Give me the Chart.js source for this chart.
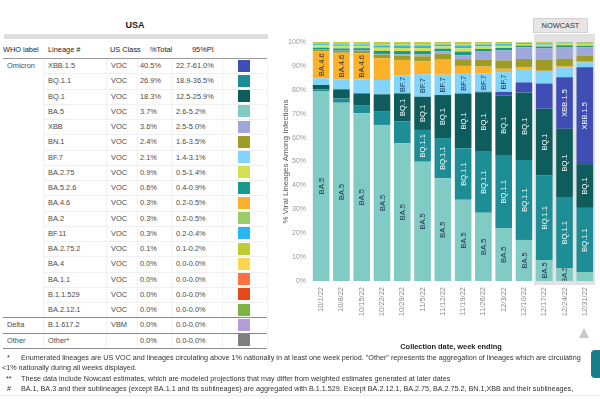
<!DOCTYPE html>
<html>
<head>
<meta charset="utf-8">
<script src="https://cdn.jsdelivr.net/npm/chart.js@4.4.1/dist/chart.umd.min.js"></script>
<style>
  body { margin: 0; width: 600px; height: 399px; overflow: hidden; background: #fff;
         font-family: "Liberation Sans", Arial, sans-serif; position: relative; }
  .t { position: absolute; white-space: nowrap; }
  .hline { position: absolute; height: 0; }
  #title { left: 0; width: 270px; top: 20px; text-align: center; font-weight: bold; font-size: 9px; color: #222; }
  #titlebar { position: absolute; left: 4px; top: 34px; width: 264px; height: 5px; background: #dedede; }
  .hd { font-size: 7.4px; color: #222; top: 45px; }
  .cell { font-size: 7.4px; color: #4a4a4a; height: 15.25px; line-height: 15.25px; }
  .sw { position: absolute; width: 12px; height: 12px; }
  #chartBox { position: absolute; left: 278px; top: 30px; width: 322px; height: 306px; }
  #nowcast { position: absolute; left: 533px; top: 18px; width: 55px; height: 15px; background: #e6e6e6;
             border: 1px solid #d0d0d0; box-sizing: border-box; font-size: 7.4px; color: #333;
             text-align: center; line-height: 13px; }
  #tri { position: absolute; left: 579px; top: 328px; width: 0; height: 0;
         border-left: 5.5px solid transparent; border-right: 5.5px solid transparent; border-bottom: 10px solid #c9c9c9; }
  #xtitle { left: 360px; width: 182px; top: 342px; text-align: center; font-weight: bold; font-size: 7.4px; color: #222; }
  .fn { font-size: 7.2px; color: #333; }
  #tab { position: absolute; left: 591px; top: 350px; width: 12px; height: 28px; background: #167f89; border-radius: 4px; }
</style>
</head>
<body>
<div id="title" class="t">USA</div>
<div id="titlebar"></div>
<div id="table"></div>
<div id="chartBox"><canvas id="variants" width="322" height="306"></canvas></div>
<div id="nowcast">NOWCAST</div>
<div id="tri"></div>
<div id="xtitle" class="t">Collection date, week ending</div>
<div class="t fn" style="left:7px;top:352.5px">*</div>
<div class="t fn" style="left:21px;top:352.5px">Enumerated lineages are US VOC and lineages circulating above 1% nationally in at least one week period. "Other" represents the aggregation of lineages which are circulating</div>
<div class="t fn" style="left:2px;top:363px">&lt;1% nationally during all weeks displayed.</div>
<div class="t fn" style="left:6px;top:373.5px">**</div>
<div class="t fn" style="left:21px;top:373.5px">These data include Nowcast estimates, which are modeled projections that may differ from weighted estimates generated at later dates</div>
<div class="t fn" style="left:7px;top:384px">#</div>
<div class="t fn" style="left:21px;top:384px">BA.1, BA.3 and their sublineages (except BA.1.1 and its sublineages) are aggregated with B.1.1.529. Except BA.2.12.1, BA.2.75, BA.2.75.2, BN.1,XBB and their sublineages,</div>
<div class="hline" style="left:0;top:395px;width:600px;border-top:1px solid #ececec"></div>
<div id="tab"></div>
<script>
// table (nowcast week ending 12/31/22)
const lineages = ['XBB.1.5', 'BQ.1.1', 'BQ.1', 'BA.5', 'XBB', 'BN.1', 'BF.7', 'BA.2.75', 'BA.5.2.6', 'BA.4.6',
                  'BA.2', 'BF.11', 'BA.2.75.2', 'BA.4', 'BA.1.1', 'B.1.1.529', 'BA.2.12.1', 'B.1.617.2', 'Other*'];
const whoLabels = ['Omicron', '', '', '', '', '', '', '', '', '', '', '', '', '', '', '', '', 'Delta', 'Other'];
const usClass = ['VOC', 'VOC', 'VOC', 'VOC', 'VOC', 'VOC', 'VOC', 'VOC', 'VOC', 'VOC',
                 'VOC', 'VOC', 'VOC', 'VOC', 'VOC', 'VOC', 'VOC', 'VBM', ''];
const pctTotal = ['40.5%', '26.9%', '18.3%', '3.7%', '3.6%', '2.4%', '2.1%', '0.9%', '0.6%', '0.3%',
                  '0.3%', '0.3%', '0.1%', '0.0%', '0.0%', '0.0%', '0.0%', '0.0%', '0.0%'];
const pi95 = ['22.7-61.0%', '18.9-36.5%', '12.5-25.9%', '2.6-5.2%', '2.5-5.0%', '1.6-3.5%', '1.4-3.1%', '0.5-1.4%',
              '0.4-0.9%', '0.2-0.5%', '0.2-0.5%', '0.2-0.4%', '0.1-0.2%', '0.0-0.0%', '0.0-0.0%', '0.0-0.0%',
              '0.0-0.0%', '0.0-0.0%', '0.0-0.0%'];

// chart
const weeks = ['10/1/22', '10/8/22', '10/15/22', '10/22/22', '10/29/22', '11/5/22', '11/12/22',
               '11/19/22', '11/26/22', '12/3/22', '12/10/22', '12/17/22', '12/24/22', '12/31/22'];
const nowcastFrom = '12/17/22';
const ba5 =     [79.5, 74.6, 70.2, 65.3, 57.6, 49.9, 43.0, 34.0, 28.6, 22.0, 17.2, 8.8, 5.3, 3.7];
const bq11 =    [0.7, 1.8, 3.4, 5.8, 9.1, 13.3, 16.8, 21.5, 25.5, 30.7, 33.4, 35.4, 29.8, 26.9];
const bq1 =     [1.8, 3.8, 4.9, 7.0, 11.8, 13.9, 18.0, 23.0, 24.9, 24.9, 28.3, 27.9, 28.6, 18.3];
const xbb15 =   [0, 0, 0, 0, 0, 0, 0, 0, 0.2, 1.5, 4.2, 10.5, 21.6, 40.5];
const bf7 =     [2.8, 4.2, 5.9, 6.0, 7.5, 9.4, 8.5, 8.5, 7.7, 8.3, 5.6, 4.9, 4.2, 2.1];
const ba46 =    [11.4, 11.1, 10.9, 9.1, 6.5, 5.5, 6.3, 3.0, 2.8, 1.4, 0.8, 0.5, 0.3, 0.3];
const bn1 =     [0.5, 0.8, 1.0, 1.5, 1.8, 2.0, 2.5, 2.8, 2.8, 3.5, 3.4, 4.5, 3.2, 2.4];
const xbb =     [0.1, 0.1, 0.2, 0.3, 0.5, 0.8, 1.0, 1.7, 3.5, 4.2, 4.9, 4.9, 4.9, 3.6];
const ba526 =   [0.8, 0.9, 0.9, 1.3, 1.4, 1.4, 1.1, 1.5, 1.1, 1.0, 0.7, 0.7, 0.7, 0.6];
const ba275 =   [1.0, 1.1, 1.0, 1.3, 1.3, 1.3, 1.0, 1.4, 1.0, 0.9, 0.7, 0.8, 0.8, 0.9];
const bf11 =    [0.5, 0.6, 0.6, 0.9, 1.0, 1.0, 0.7, 1.0, 0.8, 0.7, 0.4, 0.5, 0.3, 0.3];
const ba2 =     [0.4, 0.4, 0.4, 0.5, 0.5, 0.5, 0.4, 0.6, 0.4, 0.4, 0.2, 0.3, 0.2, 0.3];
const ba2752 =  [0.5, 0.6, 0.6, 1.0, 1.0, 1.0, 0.7, 1.0, 0.7, 0.5, 0.2, 0.3, 0.1, 0.1];
const yTicks = [0, 10, 20, 30, 40, 50, 60, 70, 80, 90, 100];

const colors = {
  'XBB.1.5': '#3f4db5', 'BQ.1.1': '#1d8d96', 'BQ.1': '#0e5d5c', 'BA.5': '#80cbc4', 'XBB': '#9fa8da',
  'BN.1': '#9e9b26', 'BF.7': '#81d4fa', 'BA.2.75': '#d4e157', 'BA.5.2.6': '#169a89', 'BA.4.6': '#fbb22a',
  'BA.2': '#9ccc65', 'BF.11': '#29b6f6', 'BA.2.75.2': '#c0ca33', 'BA.4': '#ffd54f', 'BA.1.1': '#ff7043',
  'B.1.1.529': '#e64a19', 'BA.2.12.1': '#7cb342', 'B.1.617.2': '#b39ddb', 'Other*': '#808080'
};
const darkText = '#1c2e4a';

// build table
const table = document.getElementById('table');
const rowTop = i => 58 + i * 15.25;
function add(html) { table.insertAdjacentHTML('beforeend', html); }
add('<div class="t hd" style="left:3px">WHO label</div>');
add('<div class="t hd" style="left:48px">Lineage #</div>');
add('<div class="t hd" style="left:110px">US Class</div>');
add('<div class="t hd" style="left:150px">%Total</div>');
add('<div class="t hd" style="left:192px">95%PI</div>');
add('<div class="hline" style="left:3px;top:58px;width:264px;border-top:1px solid #9a9a9a"></div>');
// faint column lines
[43, 106, 137, 172, 222, 267].forEach(x => {
  add(`<div style="position:absolute;left:${x}px;top:59px;width:1px;height:289px;background:#f2f2f2"></div>`);
});
lineages.forEach((lin, i) => {
  const top = rowTop(i);
  if (whoLabels[i]) add(`<div class="t cell" style="left:7px;top:${top}px">${whoLabels[i]}</div>`);
  add(`<div class="t cell" style="left:48px;top:${top}px">${lin}</div>`);
  add(`<div class="t cell" style="left:111px;top:${top}px">${usClass[i]}</div>`);
  add(`<div class="t cell" style="left:140px;top:${top}px">${pctTotal[i]}</div>`);
  add(`<div class="t cell" style="left:176px;top:${top}px">${pi95[i]}</div>`);
  add(`<div class="sw" style="left:238px;top:${top + 1.6}px;background:${colors[lin]}"></div>`);
  const groupEnd = i === lineages.length - 1 || whoLabels[i + 1] !== '';
  if (groupEnd) {
    add(`<div class="hline" style="left:3px;top:${rowTop(i + 1)}px;width:264px;border-top:1px solid #8a8a8a"></div>`);
  } else {
    add(`<div class="hline" style="left:43px;top:${rowTop(i + 1)}px;width:224px;border-top:1px solid #f0f0f0"></div>`);
  }
});

// chart
Chart.defaults.font.family = '"Liberation Sans", Arial, sans-serif';

const series = [
  ['BA.5', ba5, darkText, true], ['BQ.1.1', bq11, '#ffffff'], ['BQ.1', bq1, '#ffffff'],
  ['XBB.1.5', xbb15, '#ffffff'], ['BF.7', bf7, darkText], ['BA.4.6', ba46, darkText],
  ['BN.1', bn1], ['XBB', xbb], ['BA.5.2.6', ba526], ['BA.2.75', ba275], ['BF.11', bf11],
  ['BA.2', ba2], ['BA.2.75.2', ba2752]
];

const nowcastShade = {
  id: 'nowcastShade',
  beforeDatasetsDraw(chart) {
    const { ctx, chartArea, scales: { x } } = chart;
    const idx = weeks.indexOf(nowcastFrom);
    const left = (x.getPixelForValue(idx - 1) + x.getPixelForValue(idx)) / 2;
    ctx.save();
    ctx.fillStyle = '#e2e2e2';
    ctx.fillRect(left, chartArea.top - 8, chartArea.right - left, chartArea.bottom - chartArea.top + 12);
    ctx.restore();
  }
};

const segmentLabels = {
  id: 'segmentLabels',
  afterDatasetsDraw(chart) {
    const ctx = chart.ctx;
    ctx.save();
    ctx.font = '7.5px "Liberation Sans", Arial, sans-serif';
    ctx.textAlign = 'center';
    ctx.textBaseline = 'middle';
    chart.data.datasets.forEach((ds, di) => {
      if (!ds.labelColor) return;
      const w = ctx.measureText(ds.label).width;
      chart.getDatasetMeta(di).data.forEach(bar => {
        const h = bar.base - bar.y;
        if (h < w + 2 && !(ds.alwaysLabel && h >= 10)) return;
        ctx.save();
        ctx.beginPath();
        ctx.rect(bar.x - bar.width / 2, bar.y, bar.width, h);
        ctx.clip();
        ctx.translate(bar.x, (bar.y + bar.base) / 2);
        ctx.rotate(-Math.PI / 2);
        ctx.fillStyle = ds.labelColor;
        ctx.fillText(ds.label, 0, 0.5);
        ctx.restore();
      });
    });
    ctx.restore();
  }
};

new Chart(document.getElementById('variants'), {
  type: 'bar',
  data: {
    labels: weeks,
    datasets: series.map(([name, values, labelColor, alwaysLabel]) => ({
      label: name,
      data: values,
      backgroundColor: colors[name],
      borderWidth: 0,
      categoryPercentage: 0.82,
      barPercentage: 1,
      labelColor: labelColor,
      alwaysLabel: !!alwaysLabel
    }))
  },
  options: {
    responsive: false,
    animation: false,
    layout: { padding: { top: 12, right: 5, bottom: 0, left: 0 } },
    plugins: { legend: { display: false }, tooltip: { enabled: false } },
    scales: {
      x: {
        stacked: true,
        grid: { display: false, drawTicks: false },
        border: { display: false },
        ticks: { color: '#888', font: { size: 7.5 }, minRotation: 90, maxRotation: 90, autoSkip: false, padding: 6 },
        afterFit: s => { s.height = 55; }
      },
      y: {
        stacked: true,
        min: 0,
        max: 100,
        afterBuildTicks: s => { s.ticks = yTicks.map(v => ({ value: v })); },
        grid: { display: false, drawTicks: false },
        border: { display: false },
        ticks: { color: '#999', font: { size: 7 }, padding: 5, callback: v => v + '%' },
        title: { display: true, text: '% Viral Lineages Among Infections', color: '#555', font: { size: 8 }, padding: { top: 3, bottom: 0 } },
        afterFit: s => { s.width = 33; }
      }
    }
  },
  plugins: [nowcastShade, segmentLabels]
});
</script>
</body>
</html>
